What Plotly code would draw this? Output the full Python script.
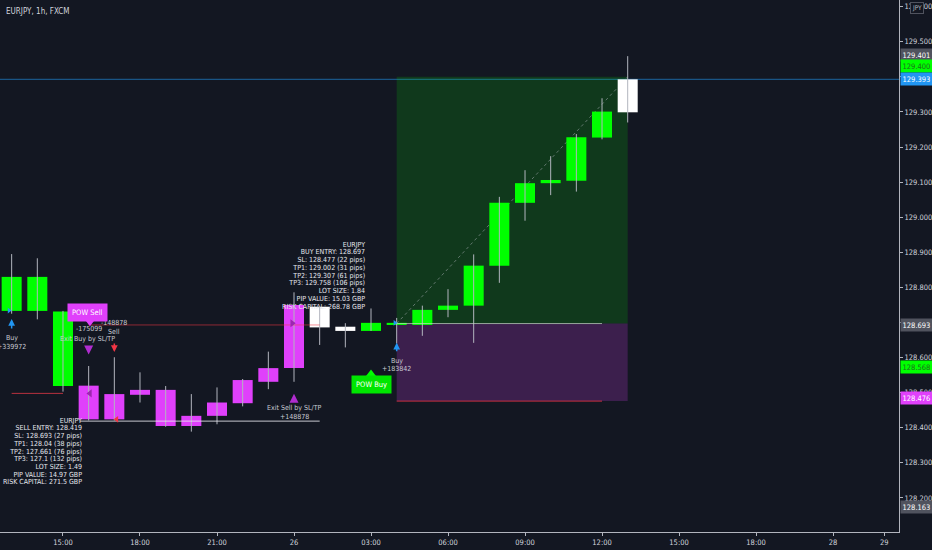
import plotly.graph_objects as go

# ---------------- data ----------------
hours = list(range(-2, 23))  # hour offsets, 0 = 15:00 on the 25th
opens = [128.733, 128.830, 128.731, 128.520, 128.424, 128.494, 128.508, 128.405, 128.434,
         128.470, 128.531, 128.570, 128.745, 128.688, 128.676, 128.693, 128.693, 128.736,
         128.748, 128.862, 129.041, 129.097, 129.104, 129.227, 129.299]
highs = [128.895, 128.883, 128.733, 128.576, 128.601, 128.558, 128.519, 128.496, 128.515,
         128.539, 128.617, 128.786, 128.745, 128.698, 128.740, 128.713, 128.748, 128.795,
         128.894, 129.058, 129.134, 129.174, 129.237, 129.339, 129.459]
lows = [128.725, 128.709, 128.503, 128.421, 128.421, 128.472, 128.403, 128.389, 128.410,
        128.461, 128.510, 128.531, 128.636, 128.629, 128.676, 128.640, 128.662, 128.715,
        128.642, 128.813, 128.990, 129.063, 129.073, 129.222, 129.270]
closes = [128.830, 128.733, 128.519, 128.424, 128.496, 128.508, 128.405, 128.434, 128.472,
          128.536, 128.570, 128.750, 128.686, 128.676, 128.699, 128.699, 128.736, 128.748,
          128.862, 129.041, 129.097, 129.106, 129.228, 129.301, 129.393]
bar_groups = (["lime"] * 3 + ["magenta"] * 9 + ["white"] * 2 + ["lime"] * 10 + ["white"])

tick_hours = [0, 3, 6, 9, 12, 15, 18, 21, 24, 27, 30, 32]
tick_labels = ["15:00", "18:00", "21:00", "26", "03:00", "06:00", "09:00", "12:00",
               "15:00", "18:00", "28", "29"]
price_ticks = [round(128.2 + 0.1 * k, 1) for k in range(15)]

sell_info = ["EURJPY", "SELL ENTRY: 128.419", "SL: 128.693 (27 pips)", "TP1: 128.04 (38 pips)",
             "TP2: 127.661 (76 pips)", "TP3: 127.1 (132 pips)", "LOT SIZE: 1.49",
             "PIP VALUE: 14.97 GBP", "RISK CAPITAL: 271.5 GBP"]
buy_info = ["EURJPY", "BUY ENTRY: 128.697", "SL: 128.477 (22 pips)", "TP1: 129.002 (31 pips)",
            "TP2: 129.307 (61 pips)", "TP3: 129.758 (106 pips)", "LOT SIZE: 1.84",
            "PIP VALUE: 15.03 GBP", "RISK CAPITAL: 268.78 GBP"]

sell_entry, sell_sl = 128.419, 128.693
buy_entry, buy_sl, buy_tp = 128.697, 128.476, 129.400
last_price = 129.393
old_stop = 128.498

axis_labels = [(129.401, "#50535e", "white", 22), (129.400, "#00ff00", "#1e6e1e", 10.5),
               (129.393, "#2196f3", "white", 0), (128.693, "#50535e", "white", 0),
               (128.568, "#00ff00", "#1e6e1e", 2), (128.476, "#e040fb", "white", 3),
               (128.163, "#50535e", "white", 4)]

# ---------------- style ----------------
BG = "#131722"
FONT = "Liberation Sans Narrow, Arial Narrow, DejaVu Sans Condensed, Roboto Condensed, Roboto, sans-serif"
COLORS = {"lime": "#00ff00", "magenta": "#e040fb", "white": "#ffffff"}
WICK = "#b2b5be"
TXT = "#c8cbd3"

fig = go.Figure()

# info text blocks (behind candles)
step = 0.02208
fig.add_trace(go.Scatter(x=[0.74] * len(sell_info),
                         y=[128.420 - k * step for k in range(len(sell_info))],
                         mode="text", text=sell_info, textposition="middle left",
                         textfont=dict(family=FONT, size=7, color="#e6e8ee"),
                         hoverinfo="skip", showlegend=False))
fig.add_trace(go.Scatter(x=[11.77] * len(buy_info),
                         y=[128.921 - k * step for k in range(len(buy_info))],
                         mode="text", text=buy_info, textposition="middle left",
                         textfont=dict(family=FONT, size=7, color="#e6e8ee"),
                         hoverinfo="skip", showlegend=False))

# wicks
wx, wy = [], []
for h, lo, hi in zip(hours, lows, highs):
    wx += [h, h, None]
    wy += [lo, hi, None]
fig.add_trace(go.Scatter(x=wx, y=wy, mode="lines", line=dict(color=WICK, width=1),
                         hoverinfo="skip", showlegend=False))

# bodies
for g in ["lime", "magenta", "white"]:
    xs, base, hgt = [], [], []
    for h, o, c, grp in zip(hours, opens, closes, bar_groups):
        if grp == g:
            xs.append(h)
            base.append(min(o, c))
            hgt.append(max(abs(c - o), 0.004))
    fig.add_trace(go.Bar(x=xs, y=hgt, base=base, width=0.78, marker=dict(color=COLORS[g], line=dict(width=0)),
                         hoverinfo="skip", showlegend=False))

# level lines (above candles)
def seg(x0, x1, y, color, width=1, dash="solid"):
    fig.add_trace(go.Scatter(x=[x0, x1], y=[y, y], mode="lines",
                             line=dict(color=color, width=width, dash=dash),
                             hoverinfo="skip", showlegend=False))

seg(-2, 0, old_stop, "#b8323f")
seg(1, 10, sell_sl, "rgba(242,54,69,0.55)")
seg(0.66, 10, sell_entry, "rgba(230,232,238,0.85)")
seg(13, 21, buy_entry, "rgba(200,220,200,0.7)")
seg(13, 21, buy_sl, "rgba(242,54,69,0.8)")

# markers
def mk(x, y, symbol, color, size):
    fig.add_trace(go.Scatter(x=[x], y=[y], mode="markers",
                             marker=dict(symbol=symbol, color=color, size=size, line=dict(width=0)),
                             hoverinfo="skip", showlegend=False))

mk(-2.1, 128.734, "triangle-right", "#2196f3", 5)
mk(12.93, 128.699, "triangle-right", "#2196f3", 5)
mk(1.05, 128.498, "triangle-left", "#9c27b0", 7)
mk(8.93, 128.698, "triangle-right", "#9c27b0", 7)
mk(2.09, 128.424, "triangle-left", "#f23645", 6)
mk(1.0, 128.609, "arrow-bar-down", "#b02ccf", 9)
mk(9.0, 128.497, "arrow-bar-up", "#b02ccf", 9)
mk(1.05, 128.702, "triangle-down", "#e040fb", 9)
mk(12.0, 128.553, "triangle-up", "#00ff00", 9)

# ---------------- shapes ----------------
shapes = [
    dict(type="rect", xref="x", yref="y", x0=13, x1=22, y0=buy_entry, y1=buy_tp,
         fillcolor="rgba(0,255,0,0.15)", line=dict(width=0), layer="below"),
    dict(type="rect", xref="x", yref="y", x0=13, x1=22, y0=buy_sl, y1=buy_entry,
         fillcolor="rgba(224,64,251,0.2)", line=dict(width=0), layer="below"),
    dict(type="line", xref="x", yref="y", x0=13, x1=22, y0=buy_entry, y1=buy_tp,
         line=dict(color="rgba(178,181,190,0.5)", width=1, dash="dot"), layer="below"),
    dict(type="line", xref="paper", yref="y", x0=0, x1=1, y0=last_price, y1=last_price,
         line=dict(color="rgba(33,150,243,0.6)", width=1), layer="below"),
]

# ---------------- annotations ----------------
ann = []
def txt(x, y, s, size=7, color=TXT, **kw):
    d = dict(x=x, y=y, xref="x", yref="y", text=s, showarrow=False,
             font=dict(family=FONT, size=size, color=color))
    d.update(kw)
    ann.append(d)

def arrow(x, y, ay, color):
    ann.append(dict(x=x, y=y, xref="x", yref="y", text="", showarrow=True, ax=0, ay=ay,
                    arrowhead=2, arrowsize=0.9, arrowwidth=1.5, arrowcolor=color))

arrow(-2.0, 128.710, 11, "#2196f3")
txt(-2.0, 128.657, "Buy")
txt(-2.0, 128.631, "+339972")
txt(1.0, 128.681, "-175099")
txt(2.0, 128.698, "-148878")
txt(2.0, 128.674, "Sell")
txt(0.97, 128.653, "Exit Buy by SL/TP")
arrow(2.0, 128.616, -10, "#f23645")
txt(9.0, 128.456, "Exit Sell by SL/TP")
txt(9.0, 128.431, "+148878")
arrow(13.0, 128.642, 10, "#2196f3")
txt(13.0, 128.591, "Buy")
txt(13.0, 128.567, "+183842")
txt(0.97, 128.728, "POW Sell", size=7.5, color="white", bgcolor="#e040fb", borderpad=4)
txt(12.0, 128.522, "POW Buy", size=7.5, color="white", bgcolor="#00e600", borderpad=4)

for price, bg, fg, shift in axis_labels:
    ann.append(dict(x=1, y=price, xref="paper", yref="y", xanchor="left", yanchor="middle",
                    text=f"{price:.3f}", showarrow=False, bgcolor=bg, borderpad=1.5,
                    yshift=shift, xshift=1, font=dict(family=FONT, size=7.5, color=fg)))

ann.append(dict(x=0.0045, y=0.979, xref="paper", yref="paper", xanchor="left", yanchor="middle",
                text="EURJPY, 1h, FXCM", showarrow=False,
                font=dict(family=FONT, size=8, color="#d1d4dc")))
ann.append(dict(x=1.02, y=0.985, xref="paper", yref="paper", xanchor="center", yanchor="middle",
                text="JPY", showarrow=False, bgcolor=BG, bordercolor="#50535e", borderwidth=1,
                borderpad=1, font=dict(family=FONT, size=6.5, color="#b2b5be")))

fig.update_layout(
    width=932, height=550,
    margin=dict(l=0, r=33, t=0, b=18),
    paper_bgcolor=BG, plot_bgcolor=BG,
    barmode="overlay", showlegend=False,
    shapes=shapes, annotations=ann,
    font=dict(family=FONT, size=8, color="#d1d4dc"),
    xaxis=dict(range=[-2.454, 32.57], tickvals=tick_hours, ticktext=tick_labels,
               showgrid=False, zeroline=False, showline=True, linecolor="#b2b5be", linewidth=1,
               ticks="outside", ticklen=3, tickcolor="#b2b5be",
               tickfont=dict(family=FONT, size=7.5, color="#d1d4dc"), fixedrange=True),
    yaxis=dict(range=[128.103, 129.619], side="right", tickvals=price_ticks,
               tickformat=".3f", showgrid=False, zeroline=False, showline=True,
               linecolor="#b2b5be", linewidth=1, ticks="outside", ticklen=3,
               tickcolor="#b2b5be", tickfont=dict(family=FONT, size=7.5, color="#d1d4dc"),
               fixedrange=True),
)

fig.write_html("out.html", config={"displayModeBar": False, "staticPlot": True})

# remove the browser's default page margin so the figure fills the window
with open("out.html", encoding="utf-8") as f:
    page = f.read()
page = page.replace("<head>", "<head><style>html,body{margin:0;padding:0;overflow:hidden;background:#131722}</style>", 1)
with open("out.html", "w", encoding="utf-8") as f:
    f.write(page)
